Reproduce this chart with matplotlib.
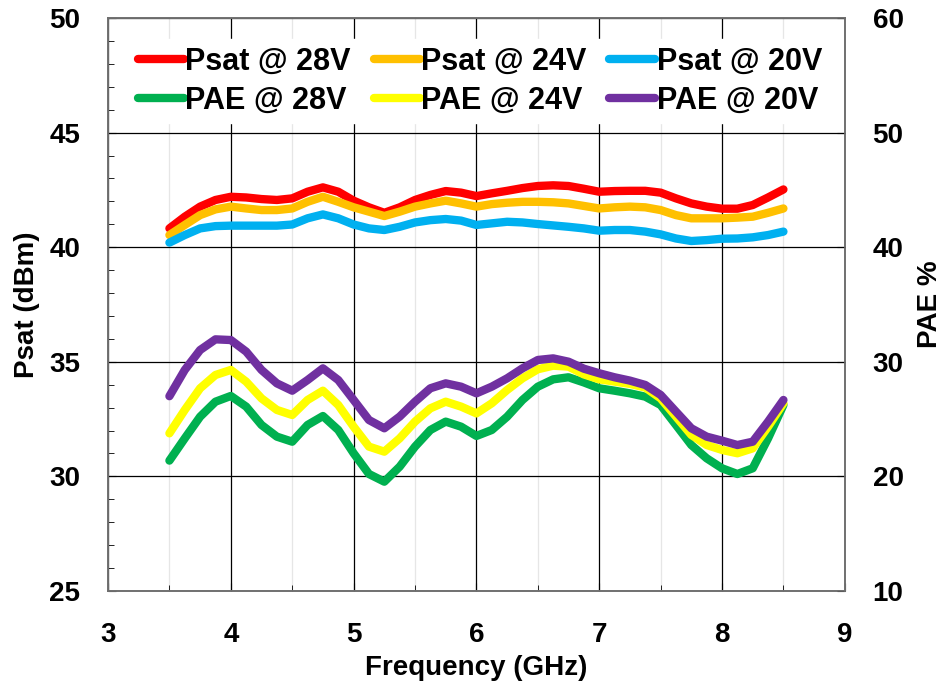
import matplotlib.pyplot as plt
from matplotlib.ticker import MultipleLocator

plt.rcParams["font.family"] = ["Liberation Sans", "DejaVu Sans"]
plt.rcParams["font.weight"] = "bold"

freq = [3.5, 3.625, 3.75, 3.875, 4.0, 4.125, 4.25, 4.375, 4.5, 4.625,
        4.75, 4.875, 5.0, 5.125, 5.25, 5.375, 5.5, 5.625, 5.75, 5.875,
        6.0, 6.125, 6.25, 6.375, 6.5, 6.625, 6.75, 6.875, 7.0, 7.125,
        7.25, 7.375, 7.5, 7.625, 7.75, 7.875, 8.0, 8.125, 8.25, 8.375, 8.5]

psat_28 = [40.82, 41.33, 41.77, 42.06, 42.2, 42.17, 42.1, 42.06, 42.13, 42.42,
           42.61, 42.42, 42.03, 41.74, 41.5, 41.74, 42.06, 42.28, 42.45, 42.38,
           42.23, 42.35, 42.46, 42.58, 42.67, 42.7, 42.67, 42.55, 42.42, 42.45,
           42.46, 42.46, 42.38, 42.13, 41.91, 41.77, 41.68, 41.68, 41.84, 42.17, 42.52]
psat_24 = [40.53, 40.97, 41.40, 41.65, 41.77, 41.69, 41.62, 41.62, 41.69, 41.98,
           42.2, 41.98, 41.74, 41.55, 41.36, 41.55, 41.77, 41.91, 42.03, 41.91,
           41.77, 41.88, 41.94, 41.98, 41.98, 41.96, 41.91, 41.8, 41.69, 41.74,
           41.77, 41.74, 41.62, 41.4, 41.26, 41.26, 41.26, 41.29, 41.33, 41.5, 41.69]
psat_20 = [40.2, 40.53, 40.82, 40.92, 40.94, 40.94, 40.94, 40.94, 40.99, 41.26,
           41.43, 41.26, 40.99, 40.82, 40.75, 40.89, 41.08, 41.18, 41.23, 41.16,
           40.97, 41.04, 41.11, 41.08, 41.01, 40.95, 40.89, 40.82, 40.72, 40.75,
           40.75, 40.68, 40.56, 40.38, 40.27, 40.31, 40.37, 40.38, 40.43, 40.53, 40.68]

pae_28 = [21.38, 23.32, 25.21, 26.52, 27.02, 26.09, 24.49, 23.47, 23.03, 24.49,
          25.27, 24.05, 22.02, 20.21, 19.54, 20.85, 22.6, 24.05, 24.78, 24.34,
          23.53, 24.05, 25.21, 26.67, 27.83, 28.47, 28.65, 28.2, 27.69, 27.48,
          27.25, 26.96, 26.23, 24.49, 22.74, 21.58, 20.71, 20.21, 20.71, 23.32, 26.23]
pae_24 = [23.76, 25.8, 27.69, 28.85, 29.29, 28.27, 26.81, 25.8, 25.36, 26.67,
          27.48, 26.23, 24.34, 22.6, 22.16, 23.32, 24.78, 25.94, 26.52, 26.09,
          25.5, 26.38, 27.54, 28.56, 29.35, 29.66, 29.58, 28.9, 28.47, 28.27,
          28.07, 27.75, 26.81, 25.22, 23.62, 22.74, 22.31, 22.02, 22.45, 24.34, 26.38]
pae_20 = [27.0, 29.29, 31.03, 31.96, 31.9, 30.89, 29.29, 28.12, 27.48, 28.41,
          29.43, 28.41, 26.67, 24.92, 24.2, 25.22, 26.52, 27.69, 28.12, 27.83,
          27.25, 27.83, 28.56, 29.43, 30.16, 30.3, 30.01, 29.4, 29.0, 28.65,
          28.36, 27.98, 27.11, 25.65, 24.2, 23.47, 23.12, 22.74, 23.03, 24.78, 26.67]

fig = plt.figure(figsize=(9.45, 6.89), dpi=100)
ax = fig.add_axes([0.1143, 0.1422, 0.7797, 0.8317])
ax2 = ax.twinx()

kw = dict(linewidth=6, solid_joinstyle="round", solid_capstyle="round")
l1, = ax.plot(freq, psat_28, color="#FF0000", label="Psat @ 28V", **kw)
l2, = ax.plot(freq, psat_24, color="#FFC000", label="Psat @ 24V", **kw)
l3, = ax.plot(freq, psat_20, color="#00B0F0", label="Psat @ 20V", **kw)
l4, = ax2.plot(freq, pae_28, color="#00B050", label="PAE @ 28V", **kw)
l5, = ax2.plot(freq, pae_24, color="#FFFF00", label="PAE @ 24V", **kw)
l6, = ax2.plot(freq, pae_20, color="#7030A0", label="PAE @ 20V", **kw)

ax.set_xlim(3, 9)
ax.set_ylim(25, 50)
ax2.set_ylim(10, 60)
ax.xaxis.set_major_locator(MultipleLocator(1))
ax.xaxis.set_minor_locator(MultipleLocator(0.5))
ax.yaxis.set_major_locator(MultipleLocator(5))
ax.yaxis.set_minor_locator(MultipleLocator(1))
ax2.yaxis.set_major_locator(MultipleLocator(10))

ax.grid(which="major", color="black", linewidth=0.9)
ax.grid(which="minor", axis="x", color="#e6e6e6", linewidth=0.9)
ax.set_axisbelow(True)

ax.tick_params(axis="both", which="both", direction="in", labelsize=20)
ax.tick_params(which="major", length=6)
ax.tick_params(which="minor", length=4)
ax.tick_params(axis="x", which="major", pad=22)
ax.tick_params(axis="y", which="major", pad=20)
ax2.tick_params(axis="y", direction="in", labelsize=20, length=6, pad=20)

for a in (ax, ax2):
    for s in a.spines.values():
        s.set_color("#6f6f6f")
        s.set_linewidth(1.2)

ax.set_xlabel("Frequency (GHz)", fontsize=20, fontweight="bold", labelpad=5)
ax.set_ylabel("Psat (dBm)", fontsize=20, fontweight="bold", labelpad=7)
ax2.set_ylabel("PAE %", fontsize=20, fontweight="bold", labelpad=10)

handles = [l1, l4, l2, l5, l3, l6]
leg = ax2.legend(handles=handles, labels=[h.get_label() for h in handles],
                 ncol=3, loc="upper center", bbox_to_anchor=(0.505, 0.99),
                 fontsize=22, frameon=True, fancybox=False, framealpha=1,
                 edgecolor="white", handlelength=1.5, handletextpad=0.05,
                 columnspacing=0.75, labelspacing=0.3, borderpad=0.25)
for line in leg.get_lines():
    line.set_linewidth(6)
for t in leg.get_texts():
    t.set_fontweight("bold")

fig.savefig("out.png", dpi=100)
